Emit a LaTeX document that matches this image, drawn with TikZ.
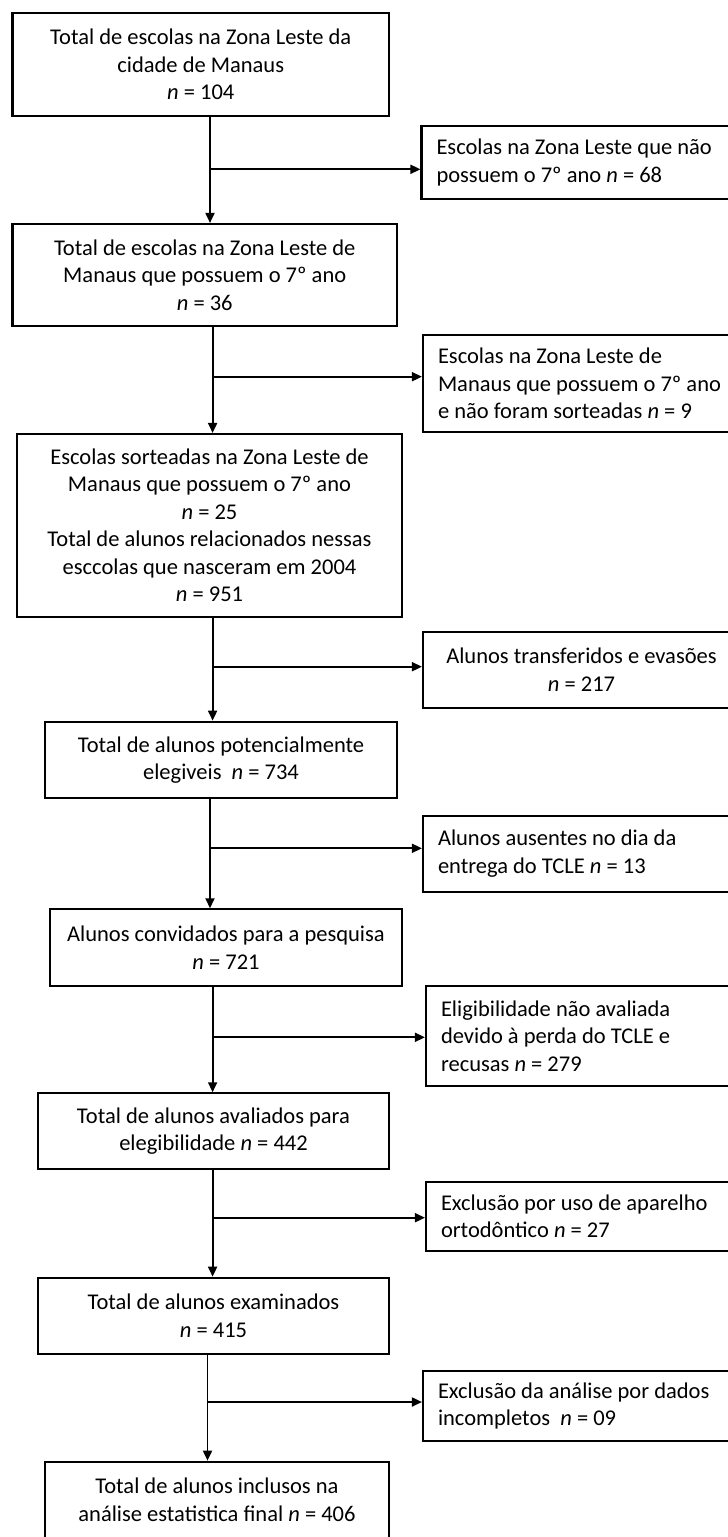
\documentclass[tikz,border=0pt]{standalone}
\usepackage{fontspec}
\setmainfont{Carlito}
\usetikzlibrary{arrows.meta}
\tikzset{
  box/.style={draw, line width=2.1pt, inner sep=0pt, align=center,
    font=\fontsize{22.5}{27.5}\selectfont},
  rbox/.style={draw, line width=2.1pt, inner ysep=0pt, inner xsep=15pt, align=flush left,
    font=\fontsize{22.5}{27.5}\selectfont},
  arr/.style={line width=1.8pt, -{Triangle[length=10pt,width=9pt]}}
}
\begin{document}
\begin{tikzpicture}[x=1pt,y=-1pt]
\useasboundingbox (0,0) rectangle (728,1537);
\clip (0,0) rectangle (728,1537);
% main column
\node[box, minimum width=376.5pt, minimum height=103.3pt] (b1) at (200.75,64.35)
  {Total de escolas na Zona Leste da\\cidade de Manaus\\\textit{n} = 104};
\node[box, minimum width=384.5pt, minimum height=101.7pt] (b2) at (204.75,274.85)
  {Total de escolas na Zona Leste de\\Manaus que possuem o 7º ano\\\textit{n} = 36};
\node[box, minimum width=385pt, minimum height=182.7pt] (b3) at (209.5,525.35)
  {Escolas sorteadas na Zona Leste de\\Manaus que possuem o 7º ano\\\textit{n} = 25\\Total de alunos relacionados nessas\\esccolas que nasceram em 2004\\\textit{n} = 951};
\node[box, minimum width=352pt, minimum height=76.6pt] (b4) at (221,760)
  {Total de alunos potencialmente\\elegiveis \ \textit{n} = 734};
\node[box, minimum width=352pt, minimum height=76.4pt] (b5) at (226,947.5)
  {Alunos convidados para a pesquisa\\\textit{n} = 721};
\node[box, minimum width=351pt, minimum height=76pt] (b6) at (213.5,1131.3)
  {Total de alunos avaliados para\\elegibilidade \textit{n} = 442};
\node[box, minimum width=351pt, minimum height=76.3pt] (b7) at (213.5,1315.85)
  {Total de alunos examinados\\\textit{n} = 415};
\node[box, minimum width=344pt, minimum height=76pt] (b8) at (217,1499.7)
  {Total de alunos inclusos na\\análise estatistica final \textit{n} = 406};
% right column (right edges run past the page edge)
\node[rbox, text width=338.5pt, minimum height=73.3pt] (r1) at (605.75,162.65)
  {Escolas na Zona Leste que não\\possuem o 7º ano \textit{n} = 68};
\node[rbox, text width=337pt, minimum height=96.7pt] (r2) at (606.5,383.35)
  {Escolas na Zona Leste de\\Manaus que possuem o 7º ano\\e não foram sorteadas \textit{n} = 9};
\node[rbox, text width=287pt, minimum height=76pt, align=flush center] (r3) at (581.5,669.7)
  {Alunos transferidos e evasões\\\textit{n} = 217};
\node[rbox, text width=337pt, minimum height=75.7pt] (r4) at (606.5,853.85)
  {Alunos ausentes no dia da\\entrega do TCLE \textit{n} = 13};
\node[rbox, text width=334pt, minimum height=100.3pt] (r5) at (608,1035.85)
  {Eligibilidade não avaliada\\devido à perda do TCLE e\\recusas \textit{n} = 279};
\node[rbox, text width=334pt, minimum height=68.4pt] (r6) at (608,1216.5)
  {Exclusão por uso de aparelho\\ortodôntico \textit{n} = 27};
\node[rbox, text width=337pt, minimum height=69.7pt] (r7) at (606.5,1405.85)
  {Exclusão da análise por dados\\incompletos \ \textit{n} = 09};
% junctions
\coordinate (j1) at (210,169.3);
\coordinate (j2) at (212.6,376.7);
\coordinate (j3) at (212.6,666.7);
\coordinate (j4) at (210,848.3);
\coordinate (j5) at (212.6,1037.3);
\coordinate (j6) at (212.6,1217.7);
\coordinate (j7) at (207.5,1402);
% connectors
\draw[arr] (j1 |- b1.south) -- (j1 |- b2.north);
\draw[arr] (j1) -- (j1 -| r1.west);
\draw[arr] (j2 |- b2.south) -- (j2 |- b3.north);
\draw[arr] (j2) -- (j2 -| r2.west);
\draw[arr] (j3 |- b3.south) -- (j3 |- b4.north);
\draw[arr] (j3) -- (j3 -| r3.west);
\draw[arr] (j4 |- b4.south) -- (j4 |- b5.north);
\draw[arr] (j4) -- (j4 -| r4.west);
\draw[arr] (j5 |- b5.south) -- (j5 |- b6.north);
\draw[arr] (j5) -- (j5 -| r5.west);
\draw[arr] (j6 |- b6.south) -- (j6 |- b7.north);
\draw[arr] (j6) -- (j6 -| r6.west);
\draw[arr] (j7 |- b7.south) -- (j7 |- b8.north);
\draw[arr] (j7) -- (j7 -| r7.west);
\end{tikzpicture}
\end{document}
